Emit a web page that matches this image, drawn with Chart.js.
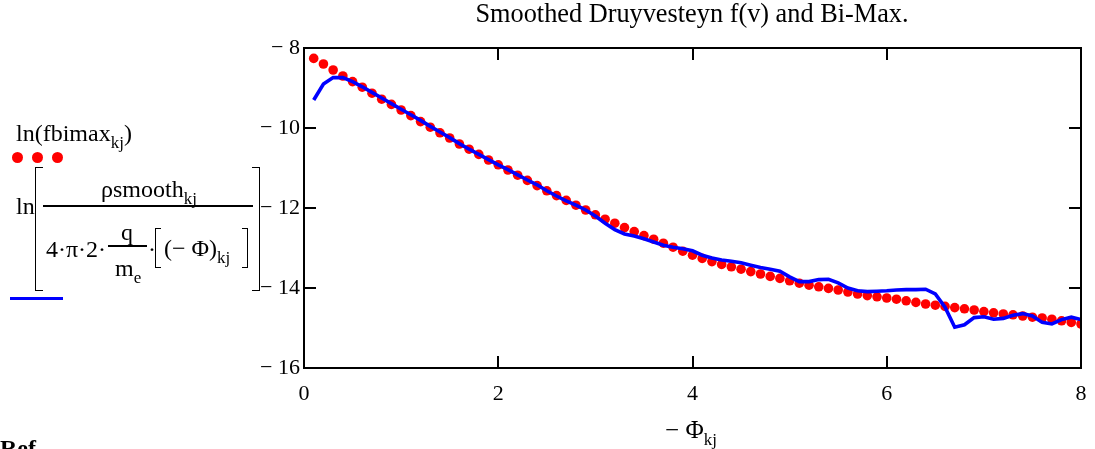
<!DOCTYPE html>
<html>
<head>
<meta charset="utf-8">
<script src="https://cdn.jsdelivr.net/npm/chart.js@4.4.0/dist/chart.umd.min.js"></script>
<style>
  html, body { margin: 0; padding: 0; background: #fff; overflow: hidden; }
  #wrap { position: relative; width: 1095px; height: 449px; overflow: hidden;
          font-family: "Liberation Serif", "Times New Roman", serif; color: #000; }
  canvas { position: absolute; left: 0; top: 0; }
  .t { position: absolute; white-space: nowrap; font-size: 24px; line-height: 1; }
  .t sub { font-size: 17px; vertical-align: -7px; line-height: 0; }
  .dot { position: absolute; width: 11px; height: 11px; border-radius: 50%; background: #ff0000; }
  .bar { position: absolute; background: #000; height: 2px; }
  .brk { position: absolute; border-color: #000; border-style: solid; }
</style>
</head>
<body>
<div id="wrap">
  <canvas id="c" width="1095" height="449"></canvas>

  <div class="t" id="title" style="left:692px; top:1px; transform:translateX(-50%); font-size:26.3px;">Smoothed Druyvesteyn f(v) and Bi-Max.</div>
  <div class="t" style="left:691px; top:417px; transform:translateX(-50%); font-size:25px;">− Φ<sub>kj</sub></div>

  <!-- left legend / axis label -->
  <div class="t" style="left:16px; top:121px;">ln(fbimax<sub>kj</sub>)</div>
  <div class="dot" style="left:12px; top:152px;"></div>
  <div class="dot" style="left:32px; top:152px;"></div>
  <div class="dot" style="left:52px; top:152px;"></div>

  <div class="t" style="left:16px; top:194px;">ln</div>
  <div class="brk" style="left:35px; top:167px; width:7px; height:122px; border-width:1.5px 0 1.5px 1.5px;"></div>
  <div class="brk" style="left:252px; top:167px; width:7px; height:122px; border-width:1.5px 1.5px 1.5px 0;"></div>
  <div class="t" style="left:149px; top:177px; transform:translateX(-50%);">ρsmooth<sub>kj</sub></div>
  <div class="bar" style="left:43px; top:205px; width:210px;"></div>
  <div class="t" style="left:46px; top:237px;">4·π·2·</div>
  <div class="t" style="left:127px; top:220px; transform:translateX(-50%);">q</div>
  <div class="bar" style="left:108px; top:245px; width:39px; height:1.5px;"></div>
  <div class="t" style="left:115px; top:256px;">m<sub>e</sub></div>
  <div class="t" style="left:148px; top:237px;">·</div>
  <div class="brk" style="left:155px; top:228px; width:5px; height:38px; border-width:1.5px 0 1.5px 1.5px;"></div>
  <div class="t" style="left:164px; top:236px;">(− Φ)<sub>kj</sub></div>
  <div class="brk" style="left:242px; top:228px; width:5px; height:38px; border-width:1.5px 1.5px 1.5px 0;"></div>
  <div style="position:absolute; left:10px; top:297px; width:53px; height:3px; background:#0000ff;"></div>

  <div class="t" style="left:0px; top:436px; font-weight:bold; font-size:24px;">Ref</div>
</div>

<script>
// ---- data ----
const negPhi = [0.1,0.2,0.3,0.4,0.5,0.6,0.7,0.8,0.9,1.0,
                1.1,1.2,1.3,1.4,1.5,1.6,1.7,1.8,1.9,2.0,
                2.1,2.2,2.3,2.4,2.5,2.6,2.7,2.8,2.9,3.0,
                3.1,3.2,3.3,3.4,3.5,3.6,3.7,3.8,3.9,4.0,
                4.1,4.2,4.3,4.4,4.5,4.6,4.7,4.8,4.9,5.0,
                5.1,5.2,5.3,5.4,5.5,5.6,5.7,5.8,5.9,6.0,
                6.1,6.2,6.3,6.4,6.5,6.6,6.7,6.8,6.9,7.0,
                7.1,7.2,7.3,7.4,7.5,7.6,7.7,7.8,7.9,8.0];

const lnFbimax = [-8.26,-8.40,-8.55,-8.70,-8.84,-8.98,-9.13,-9.28,-9.41,-9.55,
                  -9.69,-9.84,-9.98,-10.12,-10.25,-10.40,-10.53,-10.66,-10.80,-10.92,
                  -11.05,-11.18,-11.31,-11.44,-11.57,-11.69,-11.81,-11.93,-12.05,-12.17,
                  -12.28,-12.38,-12.49,-12.59,-12.69,-12.78,-12.88,-12.98,-13.08,-13.18,
                  -13.26,-13.34,-13.41,-13.47,-13.53,-13.59,-13.65,-13.71,-13.76,-13.82,
                  -13.88,-13.93,-13.97,-14.01,-14.05,-14.10,-14.15,-14.19,-14.22,-14.25,
                  -14.28,-14.32,-14.36,-14.40,-14.43,-14.46,-14.49,-14.52,-14.55,-14.59,
                  -14.62,-14.65,-14.67,-14.70,-14.73,-14.75,-14.78,-14.82,-14.86,-14.90];

const lnSmooth = [-9.30,-8.90,-8.74,-8.74,-8.84,-8.97,-9.11,-9.25,-9.39,-9.53,
                  -9.67,-9.81,-9.96,-10.10,-10.24,-10.39,-10.53,-10.66,-10.79,-10.92,
                  -11.04,-11.17,-11.30,-11.42,-11.57,-11.70,-11.82,-11.93,-12.05,-12.20,
                  -12.38,-12.54,-12.65,-12.70,-12.77,-12.85,-12.93,-12.98,-13.02,-13.07,
                  -13.18,-13.25,-13.30,-13.33,-13.37,-13.43,-13.49,-13.53,-13.58,-13.72,
                  -13.84,-13.84,-13.79,-13.78,-13.87,-14.00,-14.07,-14.09,-14.08,-14.07,
                  -14.05,-14.04,-14.04,-14.03,-14.15,-14.48,-14.98,-14.92,-14.74,-14.72,
                  -14.78,-14.76,-14.68,-14.64,-14.70,-14.86,-14.90,-14.79,-14.73,-14.79];

const xTickValues = [0, 2, 4, 6, 8];
const xTickLabels = ['0', '2', '4', '6', '8'];
const yTickValues = [-16, -14, -12, -10, -8];
const yTickLabels = ['− 16', '− 14', '− 12', '− 10', '− 8'];

// ---- chart ----
const redPts = negPhi.map((x, i) => ({ x: x, y: lnFbimax[i] }));
const bluePts = negPhi.map((x, i) => ({ x: x, y: lnSmooth[i] }));

const framePlugin = {
  id: 'frame',
  afterDraw(chart) {
    const { ctx, chartArea: a, scales } = chart;
    ctx.save();
    ctx.strokeStyle = '#000';
    ctx.lineWidth = 2;
    ctx.strokeRect(a.left, a.top, a.right - a.left, a.bottom - a.top);
    const L = 12;
    ctx.beginPath();
    xTickValues.slice(1, -1).forEach(v => {
      const px = Math.round(scales.x.getPixelForValue(v));
      ctx.moveTo(px, a.bottom); ctx.lineTo(px, a.bottom - L);
      ctx.moveTo(px, a.top); ctx.lineTo(px, a.top + L);
    });
    yTickValues.slice(1, -1).forEach(v => {
      const py = Math.round(scales.y.getPixelForValue(v));
      ctx.moveTo(a.left, py); ctx.lineTo(a.left + L, py);
      ctx.moveTo(a.right, py); ctx.lineTo(a.right - L, py);
    });
    ctx.stroke();
    ctx.restore();
  }
};

new Chart(document.getElementById('c'), {
  type: 'scatter',
  data: {
    datasets: [
      { label: 'ln(fbimax)', data: redPts, showLine: false,
        pointRadius: 4.8, pointBackgroundColor: '#ff0000', pointBorderWidth: 0,
        borderColor: '#ff0000', order: 2 },
      { label: 'ln(smooth)', data: bluePts, showLine: true,
        borderColor: '#0000ff', borderWidth: 3.6, pointRadius: 0, tension: 0, order: 1 }
    ]
  },
  options: {
    responsive: false,
    animation: false,
    devicePixelRatio: 1,
    layout: { padding: { left: 0, right: 14, top: 48, bottom: 41 } },
    plugins: { legend: { display: false }, tooltip: { enabled: false }, title: { display: false } },
    scales: {
      x: {
        type: 'linear', min: 0, max: 8,
        afterFit: s => { s.height = 40; s.paddingLeft = 0; s.paddingRight = 0; },
        afterBuildTicks: s => { s.ticks = xTickValues.map(v => ({ value: v })); },
        grid: { display: false, drawTicks: false },
        border: { display: false },
        ticks: {
          padding: 13, color: '#000',
          font: { family: '"Liberation Serif", "Times New Roman", serif', size: 22 },
          callback: v => xTickLabels[xTickValues.indexOf(v)]
        }
      },
      y: {
        type: 'linear', min: -16, max: -8,
        afterFit: s => { s.width = 304; s.paddingTop = 0; s.paddingBottom = 0; },
        afterBuildTicks: s => { s.ticks = yTickValues.map(v => ({ value: v })); },
        grid: { display: false, drawTicks: false },
        border: { display: false },
        ticks: {
          padding: 4, color: '#000',
          font: { family: '"Liberation Serif", "Times New Roman", serif', size: 22 },
          callback: v => yTickLabels[yTickValues.indexOf(v)]
        }
      }
    }
  },
  plugins: [framePlugin]
});
</script>
</body>
</html>
